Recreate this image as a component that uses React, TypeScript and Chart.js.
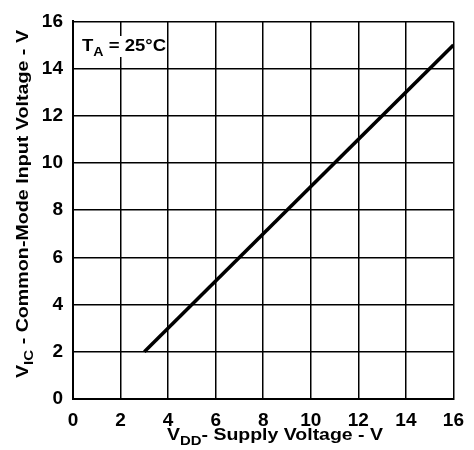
import React, { useEffect, useRef } from "react";
import { Chart, registerables } from "chart.js";

Chart.register(...registerables);

// Common-mode input voltage range vs supply voltage
const supplyVoltage = [3, 16];
const commonModeVoltage = [2, 15];
const xTicks = [0, 2, 4, 6, 8, 10, 12, 14, 16];
const yTicks = [0, 2, 4, 6, 8, 10, 12, 14, 16];

const FONT = '"Liberation Sans", Arial, Helvetica, sans-serif';

type Seg = { t: string; sub?: boolean };

const segFont = (size: number, sub?: boolean) =>
  `bold ${sub ? Math.round(size * 0.75) : size}px ${FONT}`;

function measureSegs(ctx: CanvasRenderingContext2D, segs: Seg[], size: number) {
  let w = 0;
  for (const s of segs) {
    ctx.font = segFont(size, s.sub);
    w += ctx.measureText(s.t).width;
  }
  return w;
}

// Draws a run of text pieces (with subscripts) centered at (0,0), baseline at 0,
// squeezed horizontally to the given width.
function drawSegs(ctx: CanvasRenderingContext2D, segs: Seg[], size: number, width: number) {
  const natural = measureSegs(ctx, segs, size);
  const sx = width / natural;
  ctx.save();
  ctx.scale(sx, 1);
  let x = -natural / 2;
  ctx.textBaseline = "alphabetic";
  ctx.textAlign = "left";
  ctx.fillStyle = "#000";
  for (const s of segs) {
    ctx.font = segFont(size, s.sub);
    ctx.fillText(s.t, x, s.sub ? size * 0.3 : 0);
    x += ctx.measureText(s.t).width;
  }
  ctx.restore();
}

const xTitle: Seg[] = [{ t: "V" }, { t: "DD", sub: true }, { t: "- Supply Voltage - V" }];
const yTitle: Seg[] = [{ t: "V" }, { t: "IC", sub: true }, { t: " - Common-Mode Input Voltage - V" }];
const tempLabel: Seg[] = [{ t: "T" }, { t: "A", sub: true }, { t: " = 25°C" }];

const labelsPlugin = {
  id: "labels",
  afterDraw(chart: any) {
    const ctx: CanvasRenderingContext2D = chart.ctx;
    const xs = chart.scales.x;
    const ys = chart.scales.y;

    // x axis title
    ctx.save();
    ctx.translate(275, 440);
    drawSegs(ctx, xTitle, 17, 216);
    ctx.restore();

    // y axis title
    ctx.save();
    ctx.translate(28, 204);
    ctx.rotate(-Math.PI / 2);
    drawSegs(ctx, yTitle, 17, 348);
    ctx.restore();

    // ambient temperature note in the top-left cell
    const tx = xs.getPixelForValue(0) + 50;
    const ty = ys.getPixelForValue(15) + 6;
    ctx.save();
    ctx.fillStyle = "#fff";
    ctx.fillRect(tx - 41, ty - 15, 84, 21);
    ctx.translate(tx + 1, ty);
    drawSegs(ctx, tempLabel, 17, 84);
    ctx.restore();
  },
};

export default function App() {
  const canvasRef = useRef<HTMLCanvasElement>(null);

  useEffect(() => {
    const canvas = canvasRef.current!;
    const chart = new Chart(canvas, {
      type: "scatter",
      data: {
        datasets: [
          {
            data: supplyVoltage.map((v, i) => ({ x: v, y: commonModeVoltage[i] })),
            showLine: true,
            borderColor: "#000",
            borderWidth: 3.5,
            pointRadius: 0,
            fill: false,
          },
        ],
      },
      options: {
        animation: false,
        responsive: false,
        devicePixelRatio: 1,
        layout: { padding: { left: 0, top: 16, right: 15, bottom: 0 } },
        plugins: { legend: { display: false }, tooltip: { enabled: false } },
        scales: {
          x: {
            type: "linear",
            min: 0,
            max: 16,
            afterBuildTicks: (s: any) => {
              s.ticks = xTicks.map((v) => ({ value: v }));
            },
            afterFit: (s: any) => {
              s.height = 51;
            },
            grid: { color: "#000", lineWidth: 1.5, drawTicks: false },
            border: { color: "#000", width: 2 },
            ticks: {
              color: "#000",
              padding: 10,
              maxRotation: 0,
              font: { family: FONT, size: 19, weight: "bold" },
            },
          },
          y: {
            type: "linear",
            min: 0,
            max: 16,
            afterBuildTicks: (s: any) => {
              s.ticks = yTicks.map((v) => ({ value: v }));
            },
            afterFit: (s: any) => {
              s.width = 73;
            },
            grid: { color: "#000", lineWidth: 1.5, drawTicks: false },
            border: { color: "#000", width: 2 },
            ticks: {
              color: "#000",
              padding: 10,
              font: { family: FONT, size: 19, weight: "bold" },
            },
          },
        },
      },
      plugins: [labelsPlugin],
    });
    return () => chart.destroy();
  }, []);

  return (
    <div style={{ position: "fixed", left: 0, top: 0, width: 474, height: 450, background: "#fff" }}>
      <canvas ref={canvasRef} width={474} height={450} />
    </div>
  );
}
